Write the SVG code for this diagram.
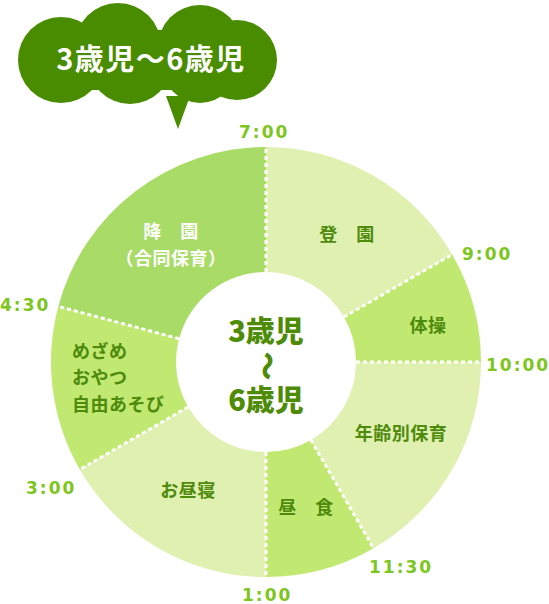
<svg xmlns="http://www.w3.org/2000/svg" width="549" height="604" viewBox="0 0 549 604">
<style>
.light{fill:#dff0b0}
.mid{fill:#c1e972}
.dark{fill:#a9dc66}
.sep{stroke:#ffffff;stroke-width:3;stroke-dasharray:4 3;fill:none}
.lbl{font-family:"Noto Sans CJK JP","Noto Sans",sans-serif;font-weight:bold;font-size:18px;fill:#4e8a0c;text-anchor:middle;letter-spacing:0.5px}
.lbl-w{fill:#ffffff}
.time{font-family:"DejaVu Sans","Noto Sans",sans-serif;font-weight:bold;font-size:17px;fill:#7dc61e;letter-spacing:2px}
.center{font-family:"Noto Sans CJK JP","Noto Sans",sans-serif;font-weight:900;font-size:29px;fill:#4e8c08;text-anchor:middle}
</style>
<g id="cloud">
<g fill="#4a8c00">
<circle cx="61" cy="60" r="43"/>
<circle cx="118" cy="46" r="43"/>
<circle cx="200" cy="47" r="42"/>
<circle cx="237" cy="60" r="40"/>
<circle cx="130" cy="62" r="42"/>
<circle cx="200" cy="65" r="38"/>
<rect x="62" y="30" width="175" height="60"/>
<path d="M166,96 L178,129 L190,96 Z"/>
</g>
<text x="151" y="70" font-family="'Noto Sans CJK JP','Noto Sans',sans-serif" font-weight="bold" font-size="29" fill="#ffffff" text-anchor="middle" letter-spacing="1.5">3歳児〜6歳児</text>
</g>
<g id="seg-touen"><path class="light" d="M266,147 A215,215 0 0 1 452.2,254.5 L343.9,317 A90,90 0 0 0 266,272 Z"/><text class="lbl" x="347" y="241">登　園</text></g>
<g id="seg-taisou"><path class="mid" d="M452.2,254.5 A215,215 0 0 1 481,362 L356,362 A90,90 0 0 0 343.9,317 Z"/><text class="lbl" x="428" y="332">体操</text></g>
<g id="seg-nenrei"><path class="light" d="M481,362 A215,215 0 0 1 373.5,548.2 L311,439.9 A90,90 0 0 0 356,362 Z"/><text class="lbl" x="401" y="440">年齢別保育</text></g>
<g id="seg-chuushoku"><path class="mid" d="M373.5,548.2 A215,215 0 0 1 266,577 L266,452 A90,90 0 0 0 311,439.9 Z"/><text class="lbl" x="306" y="514">昼　食</text></g>
<g id="seg-hirune"><path class="light" d="M266,577 A215,215 0 0 1 79.8,469.5 L188.1,407 A90,90 0 0 0 266,452 Z"/><text class="lbl" x="188" y="497">お昼寝</text></g>
<g id="seg-mezame"><path class="mid" d="M79.8,469.5 A215,215 0 0 1 58.3,306.4 L179.1,338.7 A90,90 0 0 0 188.1,407 Z"/>
<text class="lbl" x="72" y="358" style="text-anchor:start">めざめ</text>
<text class="lbl" x="72" y="384" style="text-anchor:start">おやつ</text>
<text class="lbl" x="72" y="411" style="text-anchor:start">自由あそび</text></g>
<g id="seg-kouen"><path class="dark" d="M58.3,306.4 A215,215 0 0 1 266,147 L266,272 A90,90 0 0 0 179.1,338.7 Z"/>
<text class="lbl lbl-w" x="171" y="238">降　園</text>
<text class="lbl lbl-w" x="171" y="265">（合同保育）</text></g>
<g id="connectors">
<line class="sep" x1="266" y1="272" x2="266" y2="147"/>
<line class="sep" x1="343.9" y1="317" x2="452.2" y2="254.5"/>
<line class="sep" x1="356" y1="362" x2="481" y2="362"/>
<line class="sep" x1="311" y1="439.9" x2="373.5" y2="548.2"/>
<line class="sep" x1="266" y1="452" x2="266" y2="577"/>
<line class="sep" x1="188.1" y1="407" x2="79.8" y2="469.5"/>
<line class="sep" x1="179.1" y1="338.7" x2="58.3" y2="306.4"/>
</g>
<g id="times">
<text class="time" x="239" y="138">7:00</text>
<text class="time" x="462" y="260">9:00</text>
<text class="time" x="486" y="371">10:00</text>
<text class="time" x="369" y="573">11:30</text>
<text class="time" x="242" y="601">1:00</text>
<text class="time" x="26" y="494">3:00</text>
<text class="time" x="0" y="311">4:30</text>
</g>
<g id="center">
<text class="center" x="266" y="342">3歳児</text>
<text class="center" x="266" y="376" transform="rotate(90 266 366)">〜</text>
<text class="center" x="266" y="411">6歳児</text>
</g>
</svg>
